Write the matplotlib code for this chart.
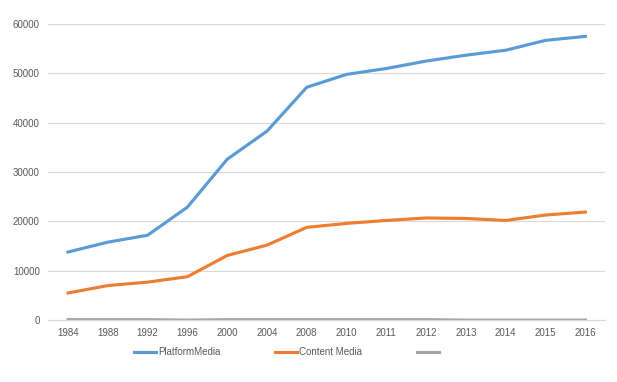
import matplotlib.pyplot as plt

years = ['1984', '1988', '1992', '1996', '2000', '2004', '2008',
         '2010', '2011', '2012', '2013', '2014', '2015', '2016']
platform_media = [13800, 15800, 17200, 22900, 32600, 38300, 47200,
                  49800, 51000, 52500, 53700, 54700, 56700, 57500]
content_media = [5500, 7000, 7700, 8800, 13100, 15200, 18800,
                 19600, 20200, 20700, 20600, 20200, 21300, 21900]
third_series = [100, 100, 100, 0, 100, 100, 100,
                100, 100, 100, 0, 0, 0, 0]

plt.rcParams['font.family'] = ['Liberation Sans', 'DejaVu Sans']
text_color = '#595959'

fig = plt.figure(figsize=(6.17, 3.82), dpi=100)
ax = fig.add_axes([0.078, 0.162, 0.903, 0.775])

x = range(len(years))
ax.plot(x, platform_media, color='#5B9BD5', lw=2.25, label='PlatformMedia')
ax.plot(x, content_media, color='#ED7D31', lw=2.25, label='Content Media')
ax.plot(x, third_series, color='#A5A5A5', lw=2.25, label=' ')

ax.set_xlim(-0.5, len(years) - 0.5)
ax.set_ylim(0, 60000)
ax.set_yticks(range(0, 60001, 10000))
ax.set_xticks(list(x))
ax.set_xticklabels(years)
ax.grid(axis='y', color='#D9D9D9', lw=0.8)
ax.set_axisbelow(True)
for s in ['top', 'right', 'left']:
    ax.spines[s].set_visible(False)
ax.spines['bottom'].set_color('#D9D9D9')
ax.tick_params(length=0, labelsize=7, colors=text_color, pad=6)

fig.legend(loc='center', bbox_to_anchor=(0.468, 0.078), ncol=3, frameon=False,
           fontsize=7, labelcolor=text_color, handlelength=2.3, handletextpad=0.2,
           columnspacing=5.6)

fig.savefig('out.png', dpi=100)
